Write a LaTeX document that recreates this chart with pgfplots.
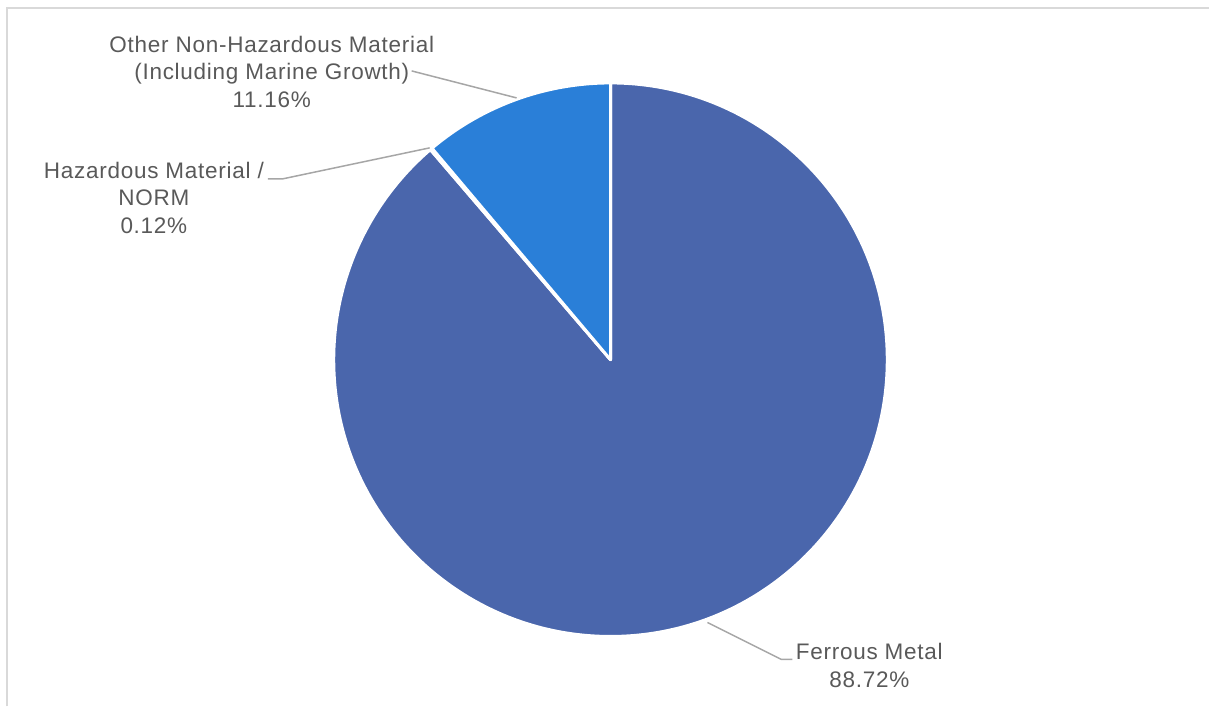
\documentclass[border=0pt]{standalone}
\usepackage{pgfplots}
\pgfplotsset{compat=1.18}
\usepackage{pgfplotstable}
\usepackage{fontspec}
\setmainfont{Liberation Sans}[LetterSpace=3.3]
\definecolor{ferrous}{HTML}{4A66AC}
\definecolor{other}{HTML}{2A7FD8}
\definecolor{haz}{HTML}{264478}
\definecolor{txt}{HTML}{595959}
\definecolor{lead}{HTML}{A6A6A6}
\definecolor{frame}{HTML}{D9D9D9}
\pgfplotstableread{
label value
Ferrous 88.72
Hazardous 0.12
Other 11.16
}\piedata
\begin{document}
\begin{tikzpicture}
\pgfplotstablegetelem{0}{value}\of\piedata \let\vA\pgfplotsretval
\pgfplotstablegetelem{1}{value}\of\piedata \let\vB\pgfplotsretval
\pgfplotstablegetelem{2}{value}\of\piedata \let\vC\pgfplotsretval
\pgfmathsetmacro\aA{90}
\pgfmathsetmacro\aB{90-3.6*\vA}
\pgfmathsetmacro\aC{\aB-3.6*\vB}
\pgfmathsetmacro\aD{\aC-3.6*\vC}
\begin{axis}[hide axis, scale only axis, width=1210bp, height=707bp,
  xmin=0, xmax=1210, ymin=0, ymax=707, clip=false]
\path (axis cs:0,0) rectangle (axis cs:1210,707);
\draw[frame, line width=2bp] (axis cs:7,0) -- (axis cs:7,699) -- (axis cs:1210,699);
\filldraw[fill=ferrous, draw=white, line width=3bp, line join=round] (axis cs:611,347) -- ++(\aA:277bp) arc[start angle=\aA, end angle=\aB, radius=277bp] -- cycle;
\filldraw[fill=haz, draw=white, line width=3bp, line join=round] (axis cs:611,347) -- ++(\aB:277bp) arc[start angle=\aB, end angle=\aC, radius=277bp] -- cycle;
\filldraw[fill=other, draw=white, line width=3bp, line join=round] (axis cs:611,347) -- ++(\aC:277bp) arc[start angle=\aC, end angle=\aD, radius=277bp] -- cycle;
\draw[lead, line width=1.5bp] (axis cs:412,636) -- (axis cs:517,609);
\draw[lead, line width=1.5bp] (axis cs:268,528) -- (axis cs:283,528) -- (axis cs:430,559);
\draw[lead, line width=1.5bp] (axis cs:708,84) -- (axis cs:782,47) -- (axis cs:793,47);
\node[txt, align=center, inner sep=0pt, font=\fontsize{22.5bp}{27.5bp}\selectfont] at (axis cs:272,635) {Other Non-Hazardous Material\\(Including Marine Growth)\\11.16\%};
\node[txt, align=center, inner sep=0pt, font=\fontsize{22.5bp}{27.5bp}\selectfont] at (axis cs:154,509) {Hazardous Material /\\NORM\\0.12\%};
\node[txt, align=center, inner sep=0pt, font=\fontsize{22.5bp}{27.5bp}\selectfont] at (axis cs:870,41) {Ferrous Metal\\88.72\%};
\end{axis}
\end{tikzpicture}
\end{document}
